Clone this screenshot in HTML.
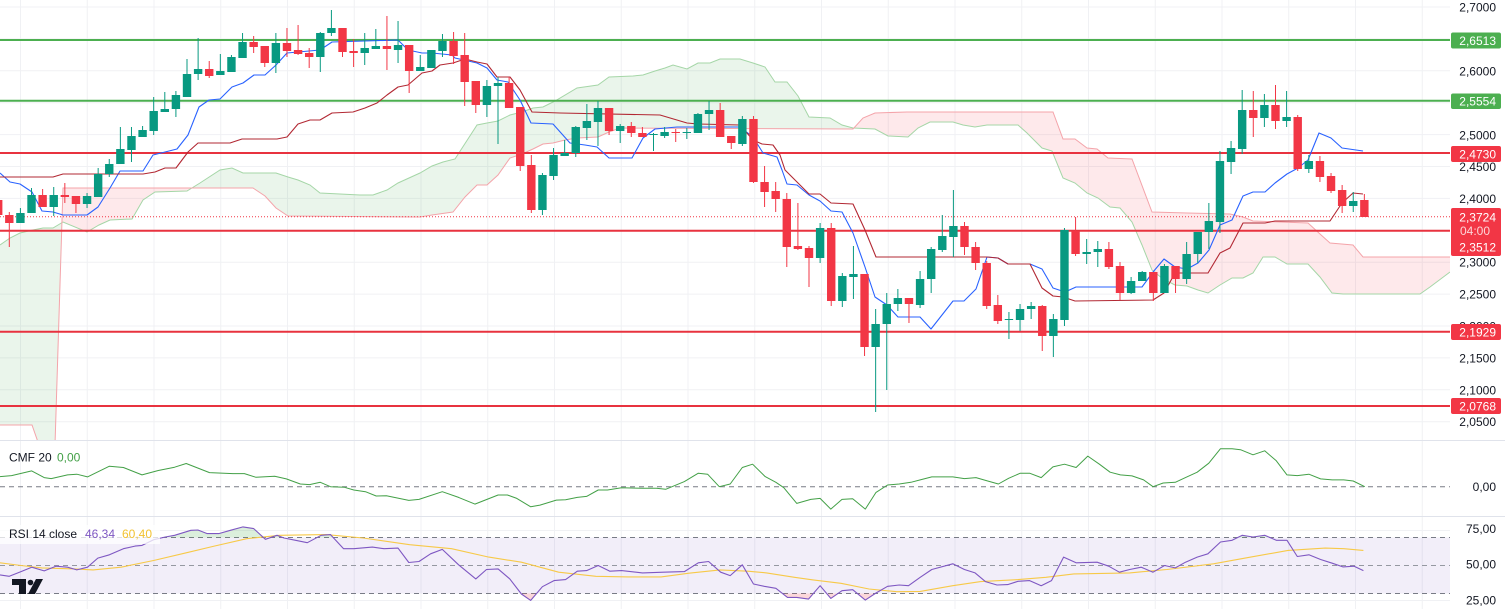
<!DOCTYPE html>
<html><head><meta charset="utf-8"><style>
html,body{margin:0;padding:0;background:#fff;}
svg{display:block;font-family:"Liberation Sans",sans-serif;}
</style></head><body>
<svg id="s" width="1505" height="609" viewBox="0 0 1505 609" xmlns="http://www.w3.org/2000/svg">
<defs>
<clipPath id="main"><rect x="0" y="0" width="1450" height="440"/></clipPath>
<clipPath id="aboveB"><polygon id="cAB" points=""/></clipPath>
<clipPath id="aboveA"><polygon id="cAA" points=""/></clipPath>
<clipPath id="ob"><rect x="0" y="500" width="1450" height="37.5"/></clipPath>
<clipPath id="os"><rect x="0" y="593.5" width="1450" height="20"/></clipPath>
</defs>
<rect width="1505" height="609" fill="#fff"/>
<g id="grid" stroke="#f0f1f4" stroke-width="1"></g>
<!-- pane separators -->
<line x1="0" y1="440.5" x2="1505" y2="440.5" stroke="#e0e3eb"/>
<line x1="0" y1="516.5" x2="1505" y2="516.5" stroke="#e0e3eb"/>

<g clip-path="url(#main)">
 <polygon id="greenFill" fill="rgba(67,160,71,0.11)" clip-path="url(#aboveB)" points=""/>
 <polygon id="redFill" fill="rgba(242,54,69,0.11)" clip-path="url(#aboveA)" points=""/>
 <polyline id="spanA" fill="none" stroke="#a5d6a7" stroke-width="1" points=""/>
 <polyline id="spanB" fill="none" stroke="#f4a4aa" stroke-width="1" points=""/>
 <!-- horizontal levels -->
 <line x1="0" y1="40" x2="1450" y2="40" stroke="#4caf50" stroke-width="2"/>
 <line x1="0" y1="100.7" x2="1450" y2="100.7" stroke="#4caf50" stroke-width="2"/>
 <line x1="0" y1="153" x2="1450" y2="153" stroke="#e8323f" stroke-width="2"/>
 <line x1="0" y1="230.7" x2="1450" y2="230.7" stroke="#e8323f" stroke-width="2"/>
 <line x1="0" y1="331.7" x2="1450" y2="331.7" stroke="#e8323f" stroke-width="2"/>
 <line x1="0" y1="406" x2="1450" y2="406" stroke="#e8323f" stroke-width="2"/>
 <line x1="0" y1="216.8" x2="1450" y2="216.8" stroke="#f23645" stroke-width="1" stroke-dasharray="1,2"/>
 <polyline fill="none" stroke="#2962ff" stroke-width="1.1" stroke-linejoin="round" points="0,173 10,182 20,184 32,192 42,211 53,212 63,215 87,215 98,207 110,188 120,171 143,171 153,155 177,149 188,135 199,107 209,100 220,99 232,87 243,83 254,75 265,75 276,65 287,53 298,52 320,50 332,42 398,40 408,50 422,53 432,53 452,55 455,58 477,63 487,68 497,80 508,82 520,100 531,123 553,124 570,143 585,145 597,147 609,158 632,158 643,138 655,129 677,127 740,127 753,137 763,153 777,157 782,170 787,184 797,185 809,195 820,201 831,211 842,212 853,233 865,267 875,297 887,305 898,317 920,317 931,329 942,315 953,301 964,301 976,289 987,257 998,258 1008,264 1030,264 1042,269 1053,288 1065,292 1076,287 1142,287 1153,272 1164,259 1175,267 1187,269 1198,263 1209,250 1220,225 1232,220 1243,196 1253,192 1265,192 1275,183 1287,174 1298,168 1308,160 1319,133 1331,138 1342,148 1363,151"/>
 <polyline fill="none" stroke="#b22833" stroke-width="1.1" stroke-linejoin="round" points="0,177 53,177 63,174 143,174 155,172 165,168 176,168 188,152 198,143 230,143 242,139 277,139 287,137 298,124 310,120 320,120 332,113 353,112 365,108 377,103 387,95 398,87 408,85 422,73 432,71 440,65 453,63 465,59 477,62 487,64 497,77 510,77 520,90 532,112 560,113 660,115 687,123 698,124 740,125 753,140 762,144 773,145 780,155 785,170 809,194 820,194 831,203 853,204 865,230 876,257 987,257 998,258 1008,264 1030,264 1042,288 1053,296 1063,297 1075,301 1153,300 1164,293 1175,273 1208,273 1220,253 1230,248 1243,223 1265,223 1275,221 1330,221 1342,203 1353,193 1363,194"/>
 <g id="candles"></g>
</g>

<!-- CMF pane -->
<line x1="0" y1="486.7" x2="1450" y2="486.7" stroke="#787b86" stroke-width="1" stroke-dasharray="5,4"/>
<polyline fill="none" stroke="#43a047" stroke-width="1" stroke-linejoin="round" points="0,476.6 11.6,475.6 31.7,470.9 44.2,477.6 51.2,478.6 67.5,474.9 76.8,474.2 87.5,476.9 109.4,466.2 123.4,467.5 142,474.9 158.3,470.5 174.6,467.2 186.2,463.5 209.5,472.6 232.8,473.6 244.4,473.6 256,477.3 274.7,476.3 286.3,478.9 300.3,484 309.6,484.6 320.3,482.3 330.5,486.7 344.5,487.3 353.8,490 365.5,491.7 376.2,496 386.4,495.7 408.8,500.4 419,499.4 442.3,491.7 458.6,497.4 474.9,504.1 498.1,495 507.4,495 516.8,498.4 530.7,506.8 540,505.1 556.3,500.1 565.6,499.7 577.3,497.4 586.6,496.4 598.2,490 607.5,490 621.5,487.7 642.5,488.3 656.4,488.3 665.7,489.3 684.4,481.6 698.3,473.2 707.6,474.2 719.3,486.7 730.2,484 742.3,467.5 752.6,464.2 765.2,476.6 775.9,482.3 783.8,487.7 796.8,503.4 810.8,499.4 820.1,498.4 830.8,509.1 842,499.4 852.7,498.7 865.3,509.1 876,492.4 887.6,485 899.2,484 910.9,482.3 920.2,479.9 931.8,476.9 952.8,476.9 964.4,478.6 976,477.6 987.7,481 998.4,484 1008.6,478.3 1020.3,473.2 1029.6,473.2 1041.2,477.6 1052.9,466.9 1064.5,464.2 1076.1,467.5 1087.8,456.1 1099.4,464.2 1110.1,472.2 1120.4,474.9 1132,475.9 1143.6,479.9 1153,486.7 1163.2,483 1175.3,482.3 1185.5,477.6 1197.2,472.2 1208.8,463.2 1220.5,448.7 1232.1,448.7 1240.5,449.7 1253,454.8 1264.7,450.8 1276.3,460.8 1287,474.9 1297.3,475.6 1308.9,474.2 1320.6,478.9 1332.2,479.9 1343.8,479.9 1353.2,481 1364.8,486.7"/>
<text x="9" y="461.5" font-size="12" fill="#131722">CMF 20</text>
<text x="57" y="461.5" font-size="12" fill="#43a047">0,00</text>

<!-- RSI pane -->
<rect x="0" y="537.5" width="1450" height="56" fill="rgba(126,87,194,0.1)"/>
<line x1="0" y1="537.5" x2="1450" y2="537.5" stroke="#787b86" stroke-dasharray="5,4"/>
<line x1="0" y1="565.5" x2="1450" y2="565.5" stroke="#9598a1" stroke-dasharray="5,4"/>
<line x1="0" y1="593.5" x2="1450" y2="593.5" stroke="#787b86" stroke-dasharray="5,4"/>
<polygon id="rsiOB" fill="rgba(76,175,80,0.2)" clip-path="url(#ob)" points=""/>
<polygon id="rsiOS" fill="rgba(242,54,69,0.2)" clip-path="url(#os)" points=""/>
<polyline id="ma" fill="none" stroke="#f7c948" stroke-width="1.1" stroke-linejoin="round" points="0,562.8 21,565.5 41.9,567.9 74.5,568.9 93.1,569.9 121,567.2 153.6,560.5 186.2,552.8 214.2,546.1 246.7,538.7 279.3,535.3 325.9,534.6 363.1,538 409.7,544.7 451.6,548.7 488.8,557.1 521.4,562.2 558.7,572.2 595.9,576.3 628.5,576.9 661.1,576.9 689,573.2 720,569.9 747.9,571.2 766.6,572.9 794.5,577.3 813.1,579.9 841,583.3 869,589 896.9,591.7 920.2,591.4 952.8,585.7 980.7,581.6 1018,579.6 1045.9,577.3 1073.8,573.9 1129.7,572.9 1166.9,569.5 1213.5,563.8 1250.7,557.1 1288,550.4 1325.2,548.1 1343.8,548.7 1363.4,550.4"/>
<polyline id="rsi" fill="none" stroke="#7e57c2" stroke-width="1.1" stroke-linejoin="round" points="0,574.9 9.3,576.3 21,571.6 31.7,567.2 44.2,570.9 55.9,566.2 67.5,567.2 76.8,569.9 87.5,567.2 97.8,558.1 109.4,554.8 123.4,548.7 135,546.1 142,545.4 153.6,539.7 165.3,537 174.6,535.3 190.9,530.3 197.9,530 207.2,533.6 218.8,533.6 230.4,530.3 243,526.9 253.7,528.6 265.4,539.3 277,535.3 284,538 295.6,540.3 307.3,542.7 321.2,535.3 330.5,534.6 343.6,548.7 353.8,548.7 372.4,547.1 384.1,548.7 398,548.1 408.8,562.5 419,561.5 430.6,553.8 442.3,549.4 458.6,564.8 475.8,578.9 486.5,569.5 498.1,568.9 509.8,578.9 521.4,594 530.7,600.4 542.4,586.7 554,580.6 565.6,579.6 577.3,571.2 586.6,570.6 598.2,565.5 609.9,571.2 621.5,570.6 642.5,572.9 663.4,572.2 684.4,571.6 698.3,562.8 708.6,561.5 720.7,572.2 730.2,575.6 742.3,564.8 753.5,584 764.2,586.3 775.9,588.3 787.5,597.4 796.8,597.4 808.5,599.1 820.1,585.7 830.8,598.4 842,590.7 852.7,589.7 865.3,600.1 876,593 887.6,586.3 899.2,585 908.5,585.7 920.2,577.3 931.8,569.5 952.8,563.8 964.4,569.5 975.1,572.9 985.4,581.6 997,585 1007.7,584.6 1018,581.3 1029.6,580.6 1041.2,585.7 1051.5,580.6 1063.6,557.1 1076.1,562.8 1097.1,562.2 1108.7,566.2 1119.4,572.2 1129.7,569.5 1141.3,567.2 1153,572.2 1164.6,565.5 1175.3,567.9 1185.5,562.2 1197.2,557.1 1207.9,553.8 1220.5,542 1232.1,540.3 1242.3,535.3 1253,537 1264.7,535.3 1276.3,540.3 1287,540.3 1297.3,556.5 1308.9,554.8 1320.6,559.5 1332.2,563.2 1342.9,566.9 1354.1,566.2 1363.4,570.6"/>
<rect x="0" y="525" width="160" height="19" fill="rgba(255,255,255,0.75)"/>
<text x="9" y="538" font-size="12" fill="#131722">RSI 14 close</text>
<text x="85" y="538" font-size="12" fill="#7e57c2">46,34</text>
<text x="122" y="538" font-size="12" fill="#f2c230">60,40</text>
<!-- TV logo -->
<g fill="#131722">
<path d="M12,579 H26 V594 H19 V585 H12 Z"/>
<circle cx="30.5" cy="582.5" r="2.8"/>
<path d="M36,579 H43 L35,594 H28 Z"/>
</g>

<!-- price axis labels -->
<g font-size="12" fill="#131722" text-anchor="end">
<text x="1496" y="11.3">2,7000</text>
<text x="1496" y="75.3">2,6000</text>
<text x="1496" y="139.3">2,5000</text>
<text x="1496" y="170.8">2,4500</text>
<text x="1496" y="202.8">2,4000</text>
<text x="1496" y="266.3">2,3000</text>
<text x="1496" y="298.3">2,2500</text>
<text x="1496" y="330.3">2,2000</text>
<text x="1496" y="362.3">2,1500</text>
<text x="1496" y="394.3">2,1000</text>
<text x="1496" y="426">2,0500</text>
<text x="1496" y="491">0,00</text>
<text x="1496" y="533">75,00</text>
<text x="1496" y="568.6">50,00</text>
<text x="1496" y="604.3">25,00</text>
</g>
<g font-size="12" text-anchor="end">
<rect x="1451" y="32.5" width="50" height="16" rx="2" fill="#4caf50"/>
<text x="1496" y="44.8" fill="#fff">2,6513</text>
<rect x="1451" y="93.5" width="50" height="15.5" rx="2" fill="#4caf50"/>
<text x="1496" y="105.5" fill="#fff">2,5554</text>
<rect x="1451" y="146" width="50" height="16" rx="2" fill="#f23645"/>
<text x="1496" y="158.3" fill="#fff">2,4730</text>
<rect x="1451" y="208" width="50" height="48" rx="2" fill="#f23645"/>
<text x="1496" y="221.5" fill="#fff">2,3724</text>
<text x="1490" y="235" fill="#fcd4d7">04:00</text>
<text x="1496" y="251.5" fill="#fff">2,3512</text>
<rect x="1451" y="324" width="50" height="16" rx="2" fill="#f23645"/>
<text x="1496" y="336.3" fill="#fff">2,1929</text>
<rect x="1451" y="398" width="50" height="16" rx="2" fill="#f23645"/>
<text x="1496" y="410.3" fill="#fff">2,0768</text>
</g>
</svg>
<script>
(function(){
var NS="http://www.w3.org/2000/svg";
function el(t,a,p){var e=document.createElementNS(NS,t);for(var k in a)e.setAttribute(k,a[k]);p.appendChild(e);return e;}
var g=document.getElementById('grid');
for(var k=0;k<22;k++){var x=20.5+66.75*k;el('line',{x1:x,y1:0,x2:x,y2:609},g);}
for(var k=0;k<14;k++){var y=7+31.9*k;el('line',{x1:0,y1:y,x2:1450,y2:y},g);}
el('line',{x1:0,y1:530.5,x2:1450,y2:530.5},g);
el('line',{x1:0,y1:600.5,x2:1450,y2:600.5},g);
var A="0,245 10,238 20,233 33,230 43,228 53,228 63,222 87,232 99,225 110,220 132,219 143,200 155,192 187,191 200,183 220,170 232,168 243,173 276,173 288,177 298,180 310,185 320,193 360,195 373,195 387,190 398,183 420,173 432,166 443,162 455,159 477,125 487,123 498,121 510,115 522,112 533,108 543,107 555,101 577,88 598,85 609,77 633,76 643,75 655,71 665,68 673,65 687,69 698,63 710,63 720,59 740,59 753,63 765,67 775,82 787,82 798,96 809,117 830,118 842,125 853,128 875,129 888,136 908,137 918,128 930,122 953,122 963,125 975,127 987,125 1018,125 1027,133 1042,148 1052,151 1063,178 1075,183 1087,193 1098,198 1110,207 1120,208 1132,222 1142,245 1152,270 1163,279 1175,285 1187,286 1198,290 1208,293 1220,285 1232,278 1243,278 1253,273 1263,257 1275,257 1287,264 1308,264 1320,277 1332,293 1343,294 1420,294 1430,287 1450,272";
var B="0,425 32,425 39,445 55,445 63,188 253,188 265,196 276,208 288,216 420,217 432,215 453,212 465,197 477,185 487,185 498,175 510,158 522,154 533,149 543,144 553,143 565,140 577,138 598,137 609,132 620,128 853,129 863,118 875,113 907,112 1053,112 1063,139 1075,139 1087,148 1097,149 1108,158 1132,159 1152,212 1187,213 1230,214 1243,217 1253,221 1308,223 1320,234 1330,243 1353,245 1363,257 1450,257";
document.getElementById('spanA').setAttribute('points',A);
document.getElementById('spanB').setAttribute('points',B);
document.getElementById('cAB').setAttribute('points',"0,-10 "+B+" 1450,-10");
document.getElementById('cAA').setAttribute('points',"0,-10 "+A+" 1450,-10");
document.getElementById('greenFill').setAttribute('points',A+" 1450,470 0,470");
document.getElementById('redFill').setAttribute('points',B+" 1450,470 0,470");
var R=document.getElementById('rsi').getAttribute('points');
document.getElementById('rsiOB').setAttribute('points',R+" 1363.4,537.5 0,537.5");
document.getElementById('rsiOS').setAttribute('points',R+" 1363.4,593.5 0,593.5");
var C=[[-1,'r',200,215,197,216],[0,'r',215,223,212,247],[1,'g',213,223,208,223],[2,'g',195,213,188,213],[3,'r',195,207,189,207],[4,'g',195,207,187,216],[5,'r',195,197,183,203],[6,'r',196,204,196,213],[7,'g',196,204,193,208],[8,'g',174,197,168,197],[9,'g',164,174,159,177],[10,'g',149,164,127,164],[11,'g',136,150,127,162],[12,'g',130,137,126,137],[13,'g',111,131,97,135],[14,'g',109,112,92,112],[15,'g',95,109,91,117],[16,'g',74,97,59,97],[17,'g',69,74,38,80],[18,'r',69,76,61,78],[19,'g',71,75,54,75],[20,'g',57,72,55,72],[21,'g',42,58,33,58],[22,'r',42,47,36,53],[23,'r',46,63,46,67],[24,'g',43,63,33,73],[25,'r',43,51,28,57],[26,'r',50,54,25,55],[27,'r',53,57,48,68],[28,'g',33,57,32,72],[29,'g',28,33,10,36],[30,'r',28,52,28,57],[31,'r',51,53,39,67],[32,'g',48,53,33,65],[33,'g',46,49,29,49],[34,'r',46,49,16,70],[35,'g',45,50,21,63],[36,'r',45,71,45,93],[37,'g',67,71,55,71],[38,'g',50,68,50,68],[39,'g',41,51,34,57],[40,'r',41,56,32,64],[41,'r',55,82,33,106],[42,'r',81,105,81,113],[43,'g',86,105,80,117],[44,'g',83,86,77,144],[45,'r',83,108,77,108],[46,'r',107,166,107,171],[47,'r',165,210,155,213],[48,'g',175,210,173,215],[49,'g',155,176,148,180],[50,'g',153,156,140,156],[51,'g',127,153,126,157],[52,'g',121,128,104,140],[53,'g',108,122,101,146],[54,'r',108,131,108,135],[55,'g',126,131,124,143],[56,'r',126,133,122,137],[57,'r',133,137,127,137],[58,'g',134,135,133,151],[59,'g',132,136,127,138],[60,'r',132,133,129,142],[61,'g',132,133,128,139],[62,'g',114,133,113,133],[63,'g',110,114,101,130],[64,'r',110,137,103,137],[65,'r',136,143,136,149],[66,'g',119,144,116,146],[67,'r',119,182,116,183],[68,'r',182,192,166,207],[69,'r',191,199,182,212],[70,'r',199,247,193,267],[71,'r',246,249,203,250],[72,'r',248,258,246,287],[73,'g',228,258,223,263],[74,'r',228,301,223,306],[75,'g',276,301,273,307],[76,'g',274,277,246,299],[77,'r',274,347,274,356],[78,'g',324,347,309,412],[79,'g',304,324,293,390],[80,'g',298,304,289,311],[81,'r',298,304,298,323],[82,'g',279,305,271,308],[83,'g',249,279,247,293],[84,'g',236,250,215,252],[85,'g',226,237,190,257],[86,'r',226,247,222,255],[87,'r',247,263,242,270],[88,'r',263,306,261,309],[89,'r',305,321,295,324],[90,'g',319,320,312,339],[91,'g',309,320,304,331],[92,'g',306,309,302,319],[93,'r',306,336,305,351],[94,'g',319,336,314,357],[95,'g',230,320,228,326],[96,'r',231,254,217,256],[97,'g',252,254,239,264],[98,'g',249,252,241,267],[99,'r',249,267,242,269],[100,'r',266,293,262,300],[101,'g',281,293,277,294],[102,'g',272,281,271,281],[103,'r',272,293,272,301],[104,'g',266,293,264,293],[105,'r',266,279,266,293],[106,'g',254,279,242,284],[107,'g',232,254,232,263],[108,'g',221,232,203,249],[109,'g',161,222,151,233],[110,'g',148,162,141,174],[111,'g',110,149,90,154],[112,'r',110,118,91,137],[113,'g',105,118,94,127],[114,'r',105,121,85,129],[115,'g',117,121,91,127],[116,'r',117,169,115,171],[117,'g',161,169,155,173],[118,'r',161,177,156,182],[119,'r',176,191,173,193],[120,'r',190,206,185,213],[121,'g',201,206,192,212],[122,'r',200,217,194,217]];
var cg=document.getElementById('candles');
for(var j=0;j<C.length;j++){var c=C[j];var x=9.3+11.107*c[0];var col=c[1]=='g'?'#089981':'#f23645';
el('line',{x1:x,y1:c[4],x2:x,y2:c[5],stroke:col,'stroke-width':1},cg);
var h=Math.max(1,c[3]-c[2]);
el('rect',{x:x-4.2,y:c[2],width:8.4,height:h,fill:col},cg);}
})();
</script>
</body></html>
